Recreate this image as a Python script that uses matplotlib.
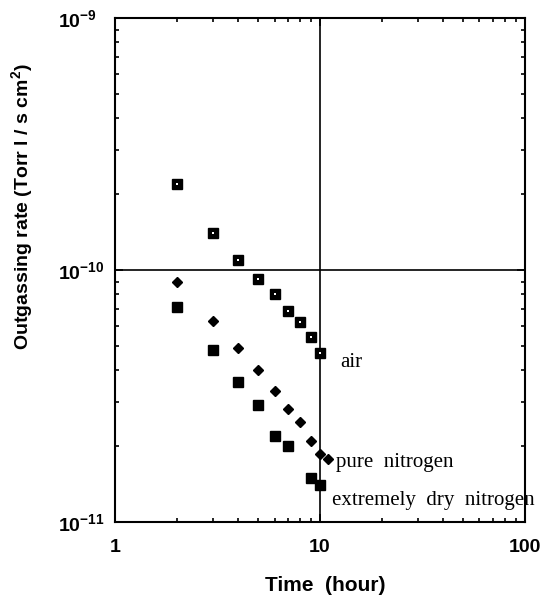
import matplotlib
matplotlib.use("Agg")
import matplotlib.pyplot as plt
from matplotlib.ticker import LogLocator, NullFormatter, FixedLocator

plt.rcParams['mathtext.fontset'] = 'custom'
plt.rcParams['mathtext.rm'] = 'Liberation Sans:bold'
plt.rcParams['mathtext.bf'] = 'Liberation Sans:bold'
plt.rcParams['mathtext.default'] = 'rm'

air_t = [2, 3, 4, 5, 6, 7, 8, 9, 10]
air_r = [2.2e-10, 1.4e-10, 1.1e-10, 9.2e-11, 8.0e-11, 6.9e-11, 6.2e-11, 5.4e-11, 4.7e-11]

pn_t = [2, 3, 4, 5, 6, 7, 8, 9, 10, 11]
pn_r = [9.0e-11, 6.3e-11, 4.9e-11, 4.0e-11, 3.3e-11, 2.8e-11, 2.5e-11, 2.1e-11, 1.86e-11, 1.78e-11]

dry_t = [2, 3, 4, 5, 6, 7, 9, 10]
dry_r = [7.1e-11, 4.8e-11, 3.6e-11, 2.9e-11, 2.2e-11, 2.0e-11, 1.5e-11, 1.4e-11]

x_ticks = [1, 10, 100]
x_ticklabels = ['1', '10', '100']
y_ticks = [1e-11, 1e-10, 1e-9]
y_ticklabels = [r'$10^{-11}$', r'$10^{-10}$', r'$10^{-9}$']

fig = plt.figure(figsize=(5.44, 6.0), dpi=100)
ax = fig.add_axes([0.2114, 0.13, 0.7536, 0.84])
ax.set_xscale('log')
ax.set_yscale('log')
ax.set_xlim(1, 100)
ax.set_ylim(1e-11, 1e-9)

# air: dark squares with a small light centre
ax.plot(air_t, air_r, linestyle='none', marker='s', markersize=6.5, color='black', zorder=3)
ax.plot(air_t, air_r, linestyle='none', marker='s', markersize=2, color='white',
        markeredgewidth=0, zorder=4)
ax.plot(pn_t, pn_r, linestyle='none', marker='D', markersize=5.5, color='black', zorder=3)
ax.plot(dry_t, dry_r, linestyle='none', marker='s', markersize=6.5, color='black', zorder=3)

ax.axvline(10, color='black', lw=1.2, zorder=2)
ax.axhline(1e-10, color='black', lw=1.2, zorder=2)

ax.xaxis.set_major_locator(FixedLocator(x_ticks))
ax.set_xticklabels(x_ticklabels, fontsize=14, fontweight='bold', family='Liberation Sans')
ax.yaxis.set_major_locator(FixedLocator(y_ticks))
ax.set_yticklabels(y_ticklabels, fontsize=14, ha='left')
ax.xaxis.set_minor_locator(LogLocator(base=10, subs=range(2, 10)))
ax.yaxis.set_minor_locator(LogLocator(base=10, subs=range(2, 10)))
ax.xaxis.set_minor_formatter(NullFormatter())
ax.yaxis.set_minor_formatter(NullFormatter())
ax.tick_params(which='both', direction='in', top=True, right=True, width=1.2)
ax.tick_params(which='major', length=6)
ax.tick_params(which='minor', length=3)
ax.tick_params(axis='x', which='major', pad=12)
ax.tick_params(axis='y', which='major', pad=41)
for s in ax.spines.values():
    s.set_linewidth(1.5)

serif = 'Liberation Serif'
ax.text(12.5, 4.31e-11, 'air', family=serif, fontsize=15, va='center', ha='left')
ax.text(11.97, 1.72e-11, 'pure  nitrogen', family=serif, fontsize=15, va='center', ha='left')
ax.text(11.45, 1.22e-11, 'extremely  dry  nitrogen', family=serif, fontsize=15, va='center', ha='left')

fig.text(0.597, 0.009, 'Time  (hour)', ha='center', va='bottom', fontsize=15,
         fontweight='bold', family='Liberation Sans')
fig.text(0.04, 0.655, 'Outgassing rate (Torr l / s cm$^{2}$)', ha='center', va='center',
         rotation=90, fontsize=14, fontweight='bold', family='Liberation Sans')

fig.savefig('out.png', dpi=100)
